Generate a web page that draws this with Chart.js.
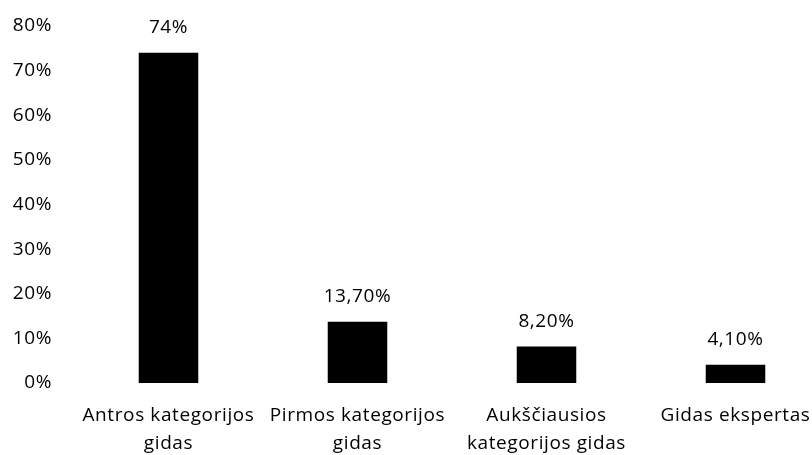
<!DOCTYPE html>
<html>
<head>
<meta charset="utf-8">
<script src="https://cdn.jsdelivr.net/npm/chart.js@4"></script>
<style>
    html, body { margin: 0; padding: 0; background: #fff; overflow: hidden; }
    #wrap { width: 830px; height: 455px; }
</style>
</head>
<body>
<div id="wrap"><canvas id="chart"></canvas></div>
<script>
// --- DATA ---
const categories = [
    ['Antros kategorijos', 'gidas'],
    ['Pirmos kategorijos', 'gidas'],
    ['Aukščiausios', 'kategorijos gidas'],
    ['Gidas ekspertas']
];
const values = [74, 13.7, 8.2, 4.1];
const valueLabels = ['74%', '13,70%', '8,20%', '4,10%'];
const yTicks = [0, 10, 20, 30, 40, 50, 60, 70, 80];

const FONT = '"Open Sans", Lato, sans-serif';
const FONT_SIZE = 19;

// a bit of extra tracking, the original text is rather loose
const spacing = {
    id: 'spacing',
    beforeDraw(chart) { chart.ctx.letterSpacing = '0.6px'; }
};

// draws the value text above each bar
const barLabels = {
    id: 'barLabels',
    afterDatasetsDraw(chart) {
        const ctx = chart.ctx;
        const meta = chart.getDatasetMeta(0);
        ctx.save();
        ctx.font = FONT_SIZE + 'px ' + FONT;
        ctx.fillStyle = '#000';
        ctx.textAlign = 'center';
        ctx.textBaseline = 'middle';
        meta.data.forEach((bar, i) => {
            ctx.fillText(valueLabels[i], bar.x, bar.y - 25);
        });
        ctx.restore();
    }
};

new Chart(document.getElementById('chart'), {
    type: 'bar',
    data: {
        labels: categories,
        datasets: [{
            data: values,
            backgroundColor: '#000',
            borderWidth: 0,
            barPercentage: 0.63,
            categoryPercentage: 0.5
        }]
    },
    options: {
        responsive: true,
        maintainAspectRatio: false,
        animation: false,
        layout: { padding: { top: 26, left: 0, right: 0, bottom: 0 } },
        plugins: { legend: { display: false }, tooltip: { enabled: false } },
        scales: {
            x: {
                grid: { display: false, drawTicks: false },
                border: { display: false },
                ticks: {
                    color: '#000',
                    font: { family: FONT, size: FONT_SIZE, lineHeight: 1.45 },
                    padding: 19,
                    maxRotation: 0,
                    autoSkip: false
                },
                afterFit(scale) {
                    scale.height = 72;
                    scale.paddingLeft = 0;
                    scale.paddingRight = 0;
                }
            },
            y: {
                min: 0,
                max: 80,
                grid: { display: false, drawTicks: false },
                border: { display: false },
                afterBuildTicks(scale) {
                    scale.ticks = yTicks.map(v => ({ value: v }));
                },
                ticks: {
                    color: '#000',
                    font: { family: FONT, size: FONT_SIZE },
                    padding: 22,
                    callback: v => v + '%'
                },
                afterFit(scale) {
                    scale.width = 74;
                    scale.paddingTop = 0;
                    scale.paddingBottom = 0;
                }
            }
        }
    },
    plugins: [spacing, barLabels]
});
</script>
</body>
</html>
